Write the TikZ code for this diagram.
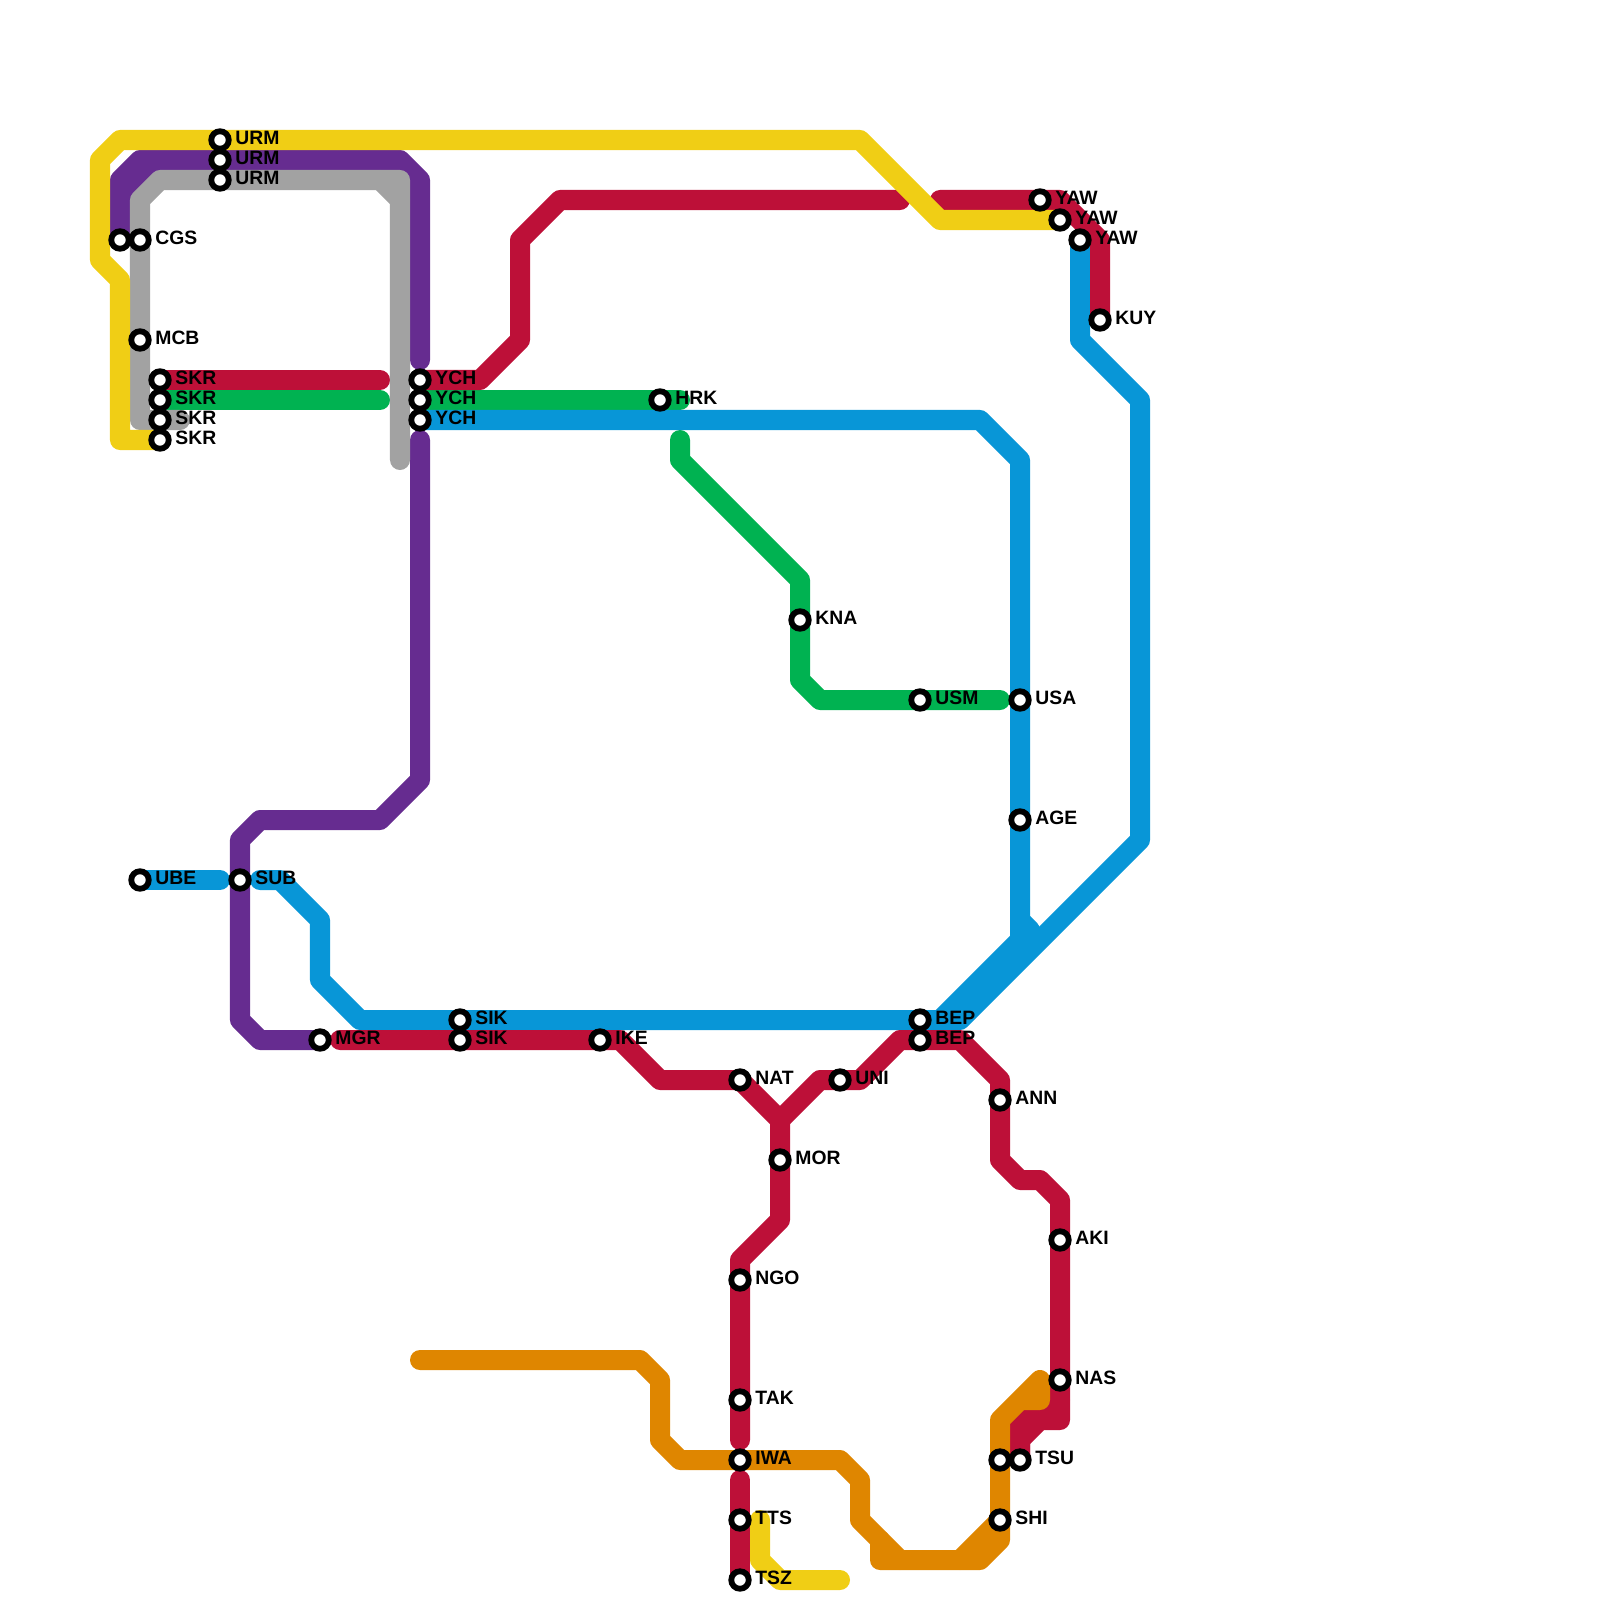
\documentclass[tikz,border=0pt]{standalone}
\usepackage{fontspec}
\setmainfont{Liberation Sans}
\pgfdeclarelayer{lines}
\pgfsetlayers{lines,main}
\definecolor{lred}{HTML}{BD1038}
\definecolor{lpurple}{HTML}{662C90}
\definecolor{lyellow}{HTML}{F0CE15}
\definecolor{lgray}{HTML}{A2A2A2}
\definecolor{lblue}{HTML}{0896D7}
\definecolor{lgreen}{HTML}{00B251}
\definecolor{lorange}{HTML}{DF8600}
\tikzset{
  stn/.style={circle,draw=black,fill=white,line width=0.058cm,minimum size=0.175cm,inner sep=0pt},
  lbl/.style={anchor=base west,inner sep=0pt,font=\fontsize{5.5pt}{5.5pt}\selectfont\bfseries,text=black},
  route/.style={line width=0.2cm,line cap=round,line join=round}
}
\newcommand{\stn}[4]{\node[stn] (#1) at (#2,#3) {};\node[lbl] (#1t) at ([xshift=0.147cm,yshift=-0.045cm]#1.center) {#4};}
\newcommand{\stnb}[3]{\node[stn] (#1) at (#2,#3) {};}
\begin{document}
\begin{tikzpicture}[x=0.01cm,y=-0.01cm]
\useasboundingbox (0,0) rectangle (1600,1600);
\stn{URMa}{220}{140}{URM}
\stn{URMb}{220}{160}{URM}
\stn{URMc}{220}{180}{URM}
\stnb{CGSa}{120}{240}
\stn{CGSb}{140}{240}{CGS}
\stn{MCB}{140}{340}{MCB}
\stn{SKRa}{160}{380}{SKR}
\stn{SKRb}{160}{400}{SKR}
\stn{SKRc}{160}{420}{SKR}
\stn{SKRd}{160}{440}{SKR}
\stn{YCHa}{420}{380}{YCH}
\stn{YCHb}{420}{400}{YCH}
\stn{YCHc}{420}{420}{YCH}
\stn{HRK}{660}{400}{HRK}
\stn{KNA}{800}{620}{KNA}
\stn{USM}{920}{700}{USM}
\stn{USA}{1020}{700}{USA}
\stn{AGE}{1020}{820}{AGE}
\stn{YAWa}{1040}{200}{YAW}
\stn{YAWb}{1060}{220}{YAW}
\stn{YAWc}{1080}{240}{YAW}
\stn{KUY}{1100}{320}{KUY}
\stn{UBE}{140}{880}{UBE}
\stn{SUB}{240}{880}{SUB}
\stn{MGR}{320}{1040}{MGR}
\stn{SIKa}{460}{1020}{SIK}
\stn{SIKb}{460}{1040}{SIK}
\stn{IKE}{600}{1040}{IKE}
\stn{BEPa}{920}{1020}{BEP}
\stn{BEPb}{920}{1040}{BEP}
\stn{NAT}{740}{1080}{NAT}
\stn{UNI}{840}{1080}{UNI}
\stn{ANN}{1000}{1100}{ANN}
\stn{MOR}{780}{1160}{MOR}
\stn{AKI}{1060}{1240}{AKI}
\stn{NGO}{740}{1280}{NGO}
\stn{TAK}{740}{1400}{TAK}
\stn{IWA}{740}{1460}{IWA}
\stn{TTS}{740}{1520}{TTS}
\stn{TSZ}{740}{1580}{TSZ}
\stn{NAS}{1060}{1380}{NAS}
\stnb{TSUa}{1000}{1460}
\stn{TSUb}{1020}{1460}{TSU}
\stn{SHI}{1000}{1520}{SHI}
\begin{pgfonlayer}{lines}
% green
\draw[route,lgreen] (SKRb.center) -- (380,400);
\draw[route,lgreen] (YCHb.center) -- (680,400);
\draw[route,lgreen] (680,440) -- (680,460) -- (800,580) -- (KNA.center) -- (800,680) -- (820,700) -- (1000,700);
% blue
\draw[route,lblue] (UBE.center) -- (220,880);
\draw[route,lblue] (260,880) -- (280,880) -- (320,920) -- (320,980) -- (360,1020) -- (BEPa.center) -- (960,1020) -- (1140,840) -- (1140,400) -- (1080,340) -- (YAWc.center);
\draw[route,lblue] (YCHc.center) -- (980,420) -- (1020,460) -- (1020,940) -- (940,1020);
\draw[route,lblue] (1020,920) -- (1030,930);
% purple
\draw[route,lpurple] (CGSa.center) -- (120,180) -- (140,160) -- (400,160) -- (420,180) -- (420,360);
\draw[route,lpurple] (120,200) -- (160,160);
\draw[route,lpurple] (420,440) -- (420,780) -- (380,820) -- (260,820) -- (240,840) -- (240,1020) -- (260,1040) -- (MGR.center);
% red
\draw[route,lred] (SKRa.center) -- (380,380);
\draw[route,lred] (YCHa.center) -- (480,380) -- (520,340) -- (520,240) -- (560,200) -- (900,200);
\draw[route,lred] (940,200) -- (1060,200) -- (1100,240) -- (KUY.center);
\draw[route,lred] (340,1040) -- (620,1040) -- (660,1080) -- (NAT.center) -- (780,1120) -- (820,1080) -- (860,1080) -- (900,1040) -- (960,1040) -- (1000,1080) -- (1000,1160) -- (1020,1180) -- (1040,1180) -- (1060,1200) -- (1060,1420) -- (1040,1420) -- (1020,1440) -- (TSUb.center);
\draw[route,lred] (TSUb.center) -- (1020,1420) -- (1040,1400) -- (1060,1400);
\draw[route,lred] (780,1120) -- (780,1220) -- (740,1260) -- (740,1440);
\draw[route,lred] (740,1480) -- (TSZ.center);
% gray
\draw[route,lgray] (180,420) -- (140,420) -- (140,200) -- (160,180) -- (400,180) -- (400,460);
\draw[route,lgray] (380,180) -- (400,200);
% yellow
\draw[route,lyellow] (SKRd.center) -- (120,440) -- (120,280) -- (100,260) -- (100,160) -- (120,140) -- (860,140) -- (940,220) -- (YAWb.center);
\draw[route,lyellow] (760,1520) -- (760,1560) -- (780,1580) -- (840,1580);
% orange
\draw[route,lorange] (420,1360) -- (640,1360) -- (660,1380) -- (660,1440) -- (680,1460) -- (840,1460) -- (860,1480) -- (860,1520) -- (900,1560);
\draw[route,lorange] (880,1540) -- (880,1560) -- (980,1560) -- (1000,1540) -- (1000,1420) -- (1040,1380) -- (1040,1400) -- (1020,1400) -- (1000,1420);
\draw[route,lorange] (960,1560) -- (1000,1520);
\end{pgfonlayer}
\end{tikzpicture}
\end{document}
